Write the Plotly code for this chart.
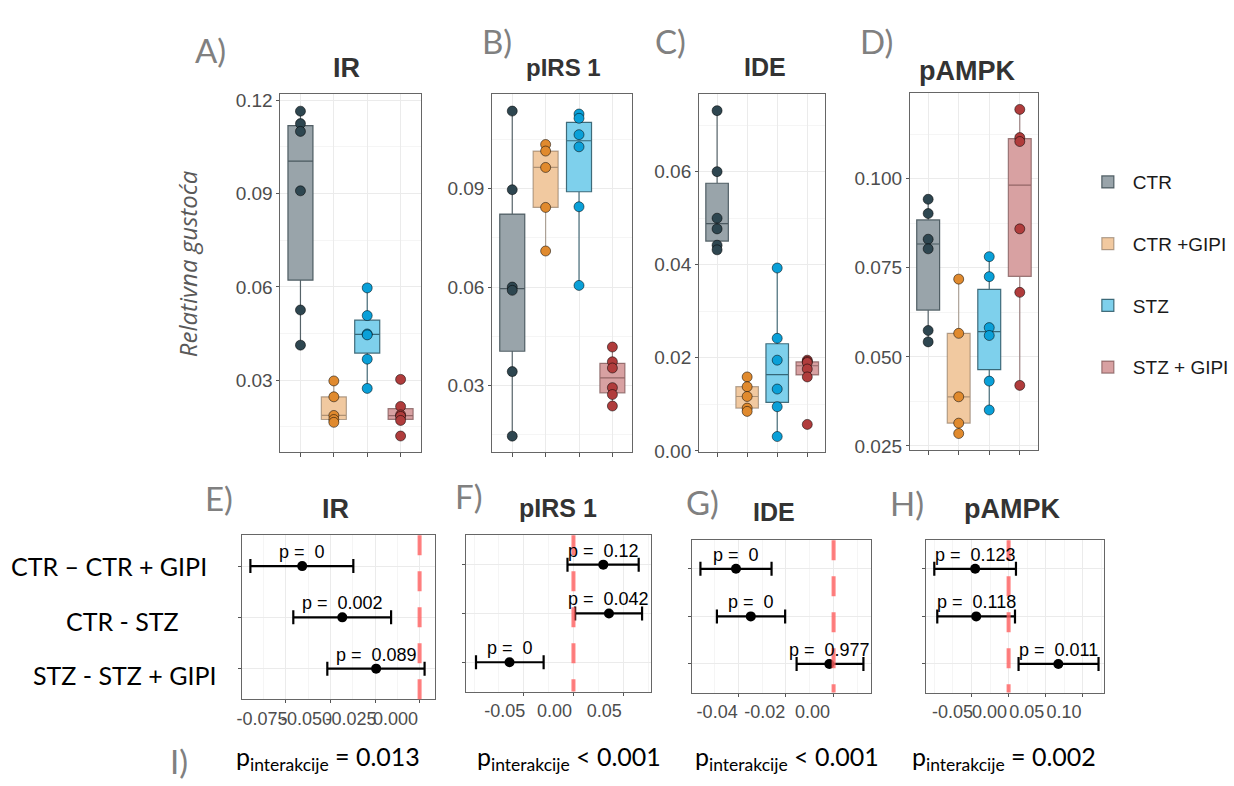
import numpy as np
import plotly.graph_objects as go

W, H = 1234, 786

# ---------------- data ----------------
groups = ["CTR", "CTR +GIPI", "STZ", "STZ + GIPI"]
markers = ["IR", "pIRS 1", "IDE", "pAMPK"]

# relative density per group (panels A-D)
ir_ctr = [0.1165, 0.1125, 0.1100, 0.0909, 0.0526, 0.0413]
ir_ctr_gipi = [0.0298, 0.0247, 0.0187, 0.0174, 0.0165]
ir_stz = [0.0597, 0.0508, 0.0449, 0.0446, 0.0368, 0.0274]
ir_stz_gipi = [0.0303, 0.0216, 0.0189, 0.0184, 0.0171, 0.0121]

pirs_ctr = [0.1137, 0.0897, 0.0600, 0.0590, 0.0342, 0.0145]
pirs_ctr_gipi = [0.1035, 0.1015, 0.0965, 0.0843, 0.0710]
pirs_stz = [0.1128, 0.1115, 0.1065, 0.1028, 0.0845, 0.0605]
pirs_stz_gipi = [0.0417, 0.0372, 0.0353, 0.0293, 0.0272, 0.0237]

ide_ctr = [0.0731, 0.0600, 0.0500, 0.0477, 0.0442, 0.0432]
ide_ctr_gipi = [0.0159, 0.0138, 0.0117, 0.0092, 0.0085]
ide_stz = [0.0393, 0.0242, 0.0195, 0.0133, 0.0095, 0.0031]
ide_stz_gipi = [0.0195, 0.0192, 0.0190, 0.0176, 0.0159, 0.0057]

pampk_ctr = [0.0942, 0.0902, 0.0830, 0.0803, 0.0574, 0.0542]
pampk_ctr_gipi = [0.0718, 0.0566, 0.0388, 0.0314, 0.0285]
pampk_stz = [0.0781, 0.0725, 0.0582, 0.0560, 0.0432, 0.0351]
pampk_stz_gipi = [0.1194, 0.1115, 0.1104, 0.0859, 0.0681, 0.0420]

# pairwise comparisons (panels E-H): estimate, lower CI, upper CI, p
comparisons = ["CTR \u2013 CTR + GIPI", "CTR - STZ", "STZ - STZ + GIPI"]

ir_est = [-0.0659, -0.0434, -0.0244]
ir_lo = [-0.0950, -0.0709, -0.0518]
ir_hi = [-0.0372, -0.0160, 0.0028]
ir_p = ["0", "0.002", "0.089"]

pirs_est = [0.0300, 0.0357, -0.0643]
pirs_lo = [-0.0060, 0.0017, -0.0980]
pirs_hi = [0.0656, 0.0690, -0.0300]
pirs_p = ["0.12", "0.042", "0"]

ide_est = [-0.0409, -0.0347, -0.0018]
ide_lo = [-0.0558, -0.0489, -0.0155]
ide_hi = [-0.0260, -0.0203, 0.0125]
ide_p = ["0", "0", "0.977"]

pampk_est = [-0.0450, -0.0436, 0.0669]
pampk_lo = [-0.1000, -0.0960, 0.0134]
pampk_hi = [0.0099, 0.0086, 0.1210]
pampk_p = ["0.123", "0.118", "0.011"]

# interaction p-values (row I)
p_interaction = ["= 0.013", "< 0.001", "< 0.001", "= 0.002"]

# tick labels
top_ticks = [
    ([0.03, 0.06, 0.09, 0.12], ["0.03", "0.06", "0.09", "0.12"]),
    ([0.03, 0.06, 0.09], ["0.03", "0.06", "0.09"]),
    ([0.00, 0.02, 0.04, 0.06], ["0.00", "0.02", "0.04", "0.06"]),
    ([0.025, 0.050, 0.075, 0.100], ["0.025", "0.050", "0.075", "0.100"]),
]
bottom_ticks = [
    ([-0.075, -0.05, -0.025, 0.0], ["-0.075", "-0.050", "-0.025", "0.000"]),
    ([-0.05, 0.0, 0.05], ["-0.05", "0.00", "0.05"]),
    ([-0.04, -0.02, 0.0], ["-0.04", "-0.02", "0.00"]),
    ([-0.05, 0.0, 0.05, 0.10], ["-0.05", "0.00", "0.05", "0.10"]),
]

# ---------------- styling ----------------
point_colors = ["#2e4650", "#e08a2e", "#0aa0d8", "#b03c3c"]
fill_colors = ["#99a4aa", "#f1c9a0", "#7ed0ec", "#d8a1a2"]
line_colors = ["rgba(60,75,82,0.85)", "rgba(120,100,80,0.55)",
               "rgba(40,85,100,0.85)", "rgba(110,70,70,0.65)"]

SANS = "Liberation Sans, Arial, sans-serif"
HUMAN = "Lato, Open Sans, sans-serif"

panel_data = [
    [ir_ctr, ir_ctr_gipi, ir_stz, ir_stz_gipi],
    [pirs_ctr, pirs_ctr_gipi, pirs_stz, pirs_stz_gipi],
    [ide_ctr, ide_ctr_gipi, ide_stz, ide_stz_gipi],
    [pampk_ctr, pampk_ctr_gipi, pampk_stz, pampk_stz_gipi],
]
forest = [
    (ir_est, ir_lo, ir_hi, ir_p),
    (pirs_est, pirs_lo, pirs_hi, pirs_p),
    (ide_est, ide_lo, ide_hi, ide_p),
    (pampk_est, pampk_lo, pampk_hi, pampk_p),
]

# panel boxes in pixels (left, top, right, bottom)
top_boxes = [(277, 92, 418, 456), (490, 92, 631, 456), (698, 92, 825, 456), (910, 91, 1039, 454)]
bot_boxes = [(238, 541, 432, 708), (464, 541, 650, 700), (691, 546, 871, 701), (926, 546, 1105, 701)]
top_yranges = [[0.0070, 0.1219], [0.0097, 0.1188], [-0.0002, 0.0766], [0.0239, 0.1239]]
top_minor = [0.015, 0.015, 0.01, 0.0125]
bot_xranges = [[-0.0999, 0.0084], [-0.1077, 0.0783], [-0.0593, 0.0157], [-0.1115, 0.128]]
bot_minor = [0.0125, 0.025, 0.01, 0.025]
bot_shift = [-24, -19, -21, -19]


def dom_x(l, r):
    return [l / W, r / W]


def dom_y(t, b):
    return [1 - b / H, 1 - t / H]


def box_stats(v):
    v = np.asarray(v, dtype=float)
    q1, med, q3 = np.percentile(v, [25, 50, 75])
    iqr = q3 - q1
    lo = v[v >= q1 - 1.5 * iqr].min()
    hi = v[v <= q3 + 1.5 * iqr].max()
    return q1, med, q3, lo, hi


fig = go.Figure()
layout = dict(
    width=W, height=H, autosize=False,
    margin=dict(l=0, r=0, t=0, b=0),
    paper_bgcolor="white", plot_bgcolor="white",
    showlegend=True,
    boxmode="overlay",
    font=dict(family=SANS, color="#4d4d4d"),
)

grid_major = "#ebebeb"
grid_minor = "#f5f5f5"
ann = []

# ---------- top panels: box plots ----------
for p in range(4):
    ax = p + 1
    xa, ya = f"x{ax}", f"y{ax}"
    for g in range(4):
        vals = panel_data[p][g]
        q1, med, q3, lo, hi = box_stats(vals)
        fig.add_trace(go.Box(
            x=[g], q1=[q1], median=[med], q3=[q3], lowerfence=[lo], upperfence=[hi],
            width=0.75, whiskerwidth=0, fillcolor=fill_colors[g],
            line=dict(color=line_colors[g], width=1.2),
            name=groups[g], legendgroup=groups[g], showlegend=(p == 0),
            xaxis=xa, yaxis=ya, hoverinfo="skip",
        ))
        fig.add_trace(go.Scatter(
            x=[g] * len(vals), y=vals, mode="markers",
            marker=dict(size=10, color=point_colors[g],
                        line=dict(color="rgba(0,0,0,0.65)", width=0.8)),
            showlegend=False, xaxis=xa, yaxis=ya, hoverinfo="skip",
        ))
    l, t, r, b = top_boxes[p]
    layout[f"xaxis{ax}"] = dict(
        domain=dom_x(l, r), anchor=ya, range=[-0.6, 3.6],
        tickmode="array", tickvals=list(range(4)), showticklabels=False,
        ticks="outside", ticklen=4, tickcolor="#555",
        showgrid=True, gridcolor=grid_major, zeroline=False,
        showline=True, linecolor="#666", linewidth=1, mirror=True,
        fixedrange=True,
    )
    tv, tt = top_ticks[p]
    layout[f"yaxis{ax}"] = dict(
        domain=dom_y(t, b), anchor=xa, range=top_yranges[p],
        tickmode="array", tickvals=tv, ticktext=tt,
        ticks="outside", ticklen=3, tickcolor="#555",
        tickfont=dict(size=19, color="#4d4d4d", family=SANS),
        showgrid=True, gridcolor=grid_major, zeroline=False,
        minor=dict(tickmode="linear", tick0=0, dtick=top_minor[p],
                   showgrid=True, gridcolor=grid_minor, ticks=""),
        showline=True, linecolor="#666", linewidth=1, mirror=True,
        fixedrange=True,
    )

# ---------- bottom panels: comparison intervals ----------
shapes = []
rows = [0, 1, 2]
for p in range(4):
    ax = p + 5
    xa, ya = f"x{ax}", f"y{ax}"
    est, lo, hi, pv = forest[p]
    est_a, lo_a, hi_a = np.array(est), np.array(lo), np.array(hi)
    fig.add_trace(go.Scatter(
        x=est, y=rows, mode="markers",
        marker=dict(size=10, color="black"),
        error_x=dict(type="data", symmetric=False, array=list(hi_a - est_a),
                     arrayminus=list(est_a - lo_a), color="black", thickness=2.2, width=7),
        showlegend=False, xaxis=xa, yaxis=ya, hoverinfo="skip", cliponaxis=False,
    ))
    for e, rw, v in zip(est, rows, pv):
        ann.append(dict(text=f"p = \u00a0{v}", x=e, y=rw, xref=xa, yref=ya,
                        showarrow=False, xanchor="center", yanchor="middle", yshift=14,
                        font=dict(size=18, color="black", family=SANS)))
    shapes.append(dict(type="line", xref=xa, yref=f"{ya} domain", x0=0, x1=0, y0=1, y1=0,
                       line=dict(color="rgba(255,95,95,0.8)", width=4, dash="20px,16px"),
                       layer="above"))
    l, t, r, b = bot_boxes[p]
    tv, tt = bottom_ticks[p]
    layout[f"xaxis{ax}"] = dict(
        domain=dom_x(l, r), anchor=ya, range=bot_xranges[p],
        tickmode="array", tickvals=tv, ticktext=tt, tickangle=0,
        ticks="outside", ticklen=3, tickcolor="#555",
        ticklabelshift=bot_shift[p],
        tickfont=dict(size=18, color="#4d4d4d", family=SANS),
        showgrid=True, gridcolor=grid_major, zeroline=False,
        minor=dict(tickmode="linear", tick0=0, dtick=bot_minor[p],
                   showgrid=True, gridcolor=grid_minor, ticks=""),
        showline=True, linecolor="#666", linewidth=1, mirror=True,
        fixedrange=True,
    )
    layout[f"yaxis{ax}"] = dict(
        domain=dom_y(t, b), anchor=xa, range=[2.6, -0.6],
        tickmode="array", tickvals=rows, showticklabels=False,
        ticks="outside", ticklen=3, tickcolor="#555",
        showgrid=True, gridcolor=grid_major, zeroline=False,
        showline=True, linecolor="#666", linewidth=1, mirror=True,
        fixedrange=True,
    )

# ---------- annotations ----------


def add_text(text, x, y, size, color, family, angle=0, xanchor="center"):
    ann.append(dict(text=text, x=x / W, y=1 - y / H, xref="paper", yref="paper",
                    showarrow=False, xanchor=xanchor, yanchor="middle", textangle=angle,
                    font=dict(size=size, color=color, family=family)))


top_title_pos = [(343, 65, 27), (562, 65, 24), (764, 64, 25), (967, 68, 27)]
bot_title_pos = [(332, 514, 27), (556, 513, 25), (773, 517, 25), (1013, 514, 27)]
for i, name in enumerate(markers):
    x, y, s = top_title_pos[i]
    add_text(f"<b>{name}</b>", x, y, s, "#333333", SANS)
    x, y, s = bot_title_pos[i]
    add_text(f"<b>{name}</b>", x, y, s, "#333333", SANS)

letters = ["A)", "B)", "C)", "D)", "E)", "F)", "G)", "H)", "I)"]
letter_pos = [(207, 47), (495, 38), (669, 38), (876, 38), (215, 503), (466, 501),
              (701, 507), (907, 508), (175, 771)]
for lt, (x, y) in zip(letters, letter_pos):
    add_text(lt, x, y, 33, "#808080", HUMAN)

add_text("<i>Relativna gustoća</i>", 183, 264, 24, "#595959", "Open Sans, Lato, sans-serif", angle=-90)

row_label_pos = [(105, 572), (118, 628), (120, 683)]
for lab, (x, y) in zip(comparisons, row_label_pos):
    add_text(lab, x, y, 25, "black", HUMAN)

pint_pos = [(325, 768), (567, 768), (786, 768), (1005, 768)]
for txt, (x, y) in zip(p_interaction, pint_pos):
    add_text(f"p<sub>interakcije</sub> {txt}", x, y, 25, "black", HUMAN)

layout["annotations"] = ann
layout["shapes"] = shapes
layout["legend"] = dict(
    x=1084 / W, y=1 - 162 / H, xanchor="left", yanchor="top",
    font=dict(size=19, color="#1a1a1a", family=SANS),
    tracegroupgap=34, bgcolor="rgba(0,0,0,0)", traceorder="grouped",
    itemwidth=40,
)

fig.update_layout(**layout)

fig.write_html("out.html", include_plotlyjs=True, full_html=True,
               config={"displayModeBar": False},
               post_script="document.body.style.margin='0';")
